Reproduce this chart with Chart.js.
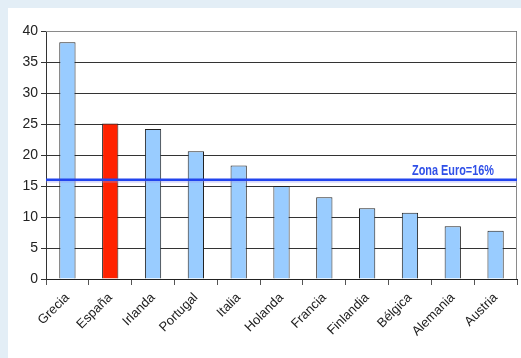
<!DOCTYPE html>
<html>
<head>
<meta charset="utf-8">
<script src="https://cdn.jsdelivr.net/npm/chart.js@4"></script>
<style>
  html, body { margin: 0; padding: 0; }
  body { width: 521px; height: 358px; background: #e3eef6; position: relative; overflow: hidden; }
  #panel { position: absolute; left: 8px; top: 8px; width: 513px; height: 350px; background: #ffffff; }
</style>
</head>
<body>
<div id="panel"><canvas id="myChart" width="513" height="350"></canvas></div>
<script>
// datos
const paises = ["Grecia", "España", "Irlanda", "Portugal", "Italia", "Holanda", "Francia", "Finlandia", "Bélgica", "Alemania", "Austria"];
const valores = [38.2, 25.1, 24.2, 20.6, 18.3, 15.0, 13.2, 11.4, 10.7, 8.5, 7.8];
const colores = ["#99ccff", "#ff2200", "#99ccff", "#99ccff", "#99ccff", "#99ccff", "#99ccff", "#99ccff", "#99ccff", "#99ccff", "#99ccff"];
const zonaEuro = 16;
const zonaEuroTexto = "Zona Euro=16%";

// linea de la zona euro + marco del grafico
const lineaZonaEuro = {
    id: "lineaZonaEuro",
    afterDatasetsDraw(chart) {
        const ctx = chart.ctx;
        const area = chart.chartArea;
        const y = chart.scales.y.getPixelForValue(zonaEuro);

        // marco gris arriba y a la derecha
        ctx.save();
        ctx.strokeStyle = "#8a8a8a";
        ctx.lineWidth = 1;
        ctx.beginPath();
        ctx.moveTo(area.left, area.top + 0.5);
        ctx.lineTo(area.right - 0.5, area.top + 0.5);
        ctx.lineTo(area.right - 0.5, area.bottom);
        ctx.stroke();

        // sombra clara
        ctx.strokeStyle = "rgba(150,150,240,0.35)";
        ctx.lineWidth = 2;
        ctx.beginPath();
        ctx.moveTo(area.left, y + 2);
        ctx.lineTo(area.right, y + 2);
        ctx.stroke();

        ctx.strokeStyle = "#2244ee";
        ctx.lineWidth = 2.5;
        ctx.beginPath();
        ctx.moveTo(area.left, y);
        ctx.lineTo(area.right, y);
        ctx.stroke();

        // texto
        ctx.font = "bold 15px 'Liberation Sans', Arial, sans-serif";
        const w = ctx.measureText(zonaEuroTexto).width;
        const escala = 82 / w;
        ctx.fillStyle = "#3050e8";
        ctx.textBaseline = "alphabetic";
        ctx.translate(area.right - 23 - 82, y - 5);
        ctx.scale(escala, 1);
        ctx.fillText(zonaEuroTexto, 0, 0);
        ctx.restore();
    }
};

function createBarChart(myChart) {
    var ctx = myChart.getContext("2d");
    return new Chart(ctx, {
        type: "bar",
        data: {
            labels: paises,
            datasets: [{
                data: valores,
                backgroundColor: colores,
                borderColor: "#222222",
                borderWidth: 1,
                barPercentage: 0.38,
                categoryPercentage: 1.0
            }]
        },
        options: {
            responsive: false,
            animation: false,
            layout: { padding: { top: 23, right: 4, left: 0, bottom: 0 } },
            plugins: {
                legend: { display: false },
                tooltip: { enabled: false }
            },
            scales: {
                x: {
                    grid: {
                        offset: true,
                        drawOnChartArea: false,
                        drawTicks: true,
                        tickLength: 6,
                        color: "#555555"
                    },
                    border: { display: true, color: "#222222" },
                    ticks: {
                        maxRotation: 45,
                        minRotation: 45,
                        color: "#222222",
                        font: { family: "'Liberation Sans', Arial, sans-serif", size: 13 },
                        padding: 5
                    },
                    afterFit(scale) { scale.height = 79; }
                },
                y: {
                    min: 0,
                    max: 40,
                    ticks: {
                        stepSize: 5,
                        color: "#222222",
                        font: { family: "'Liberation Sans', Arial, sans-serif", size: 14 },
                        padding: 3
                    },
                    grid: {
                        color: "#333333",
                        tickLength: 5
                    },
                    border: { display: true, color: "#333333" },
                    afterFit(scale) { scale.width = 38; }
                }
            }
        },
        plugins: [lineaZonaEuro]
    });
}

createBarChart(document.getElementById("myChart"));
</script>
</body>
</html>
